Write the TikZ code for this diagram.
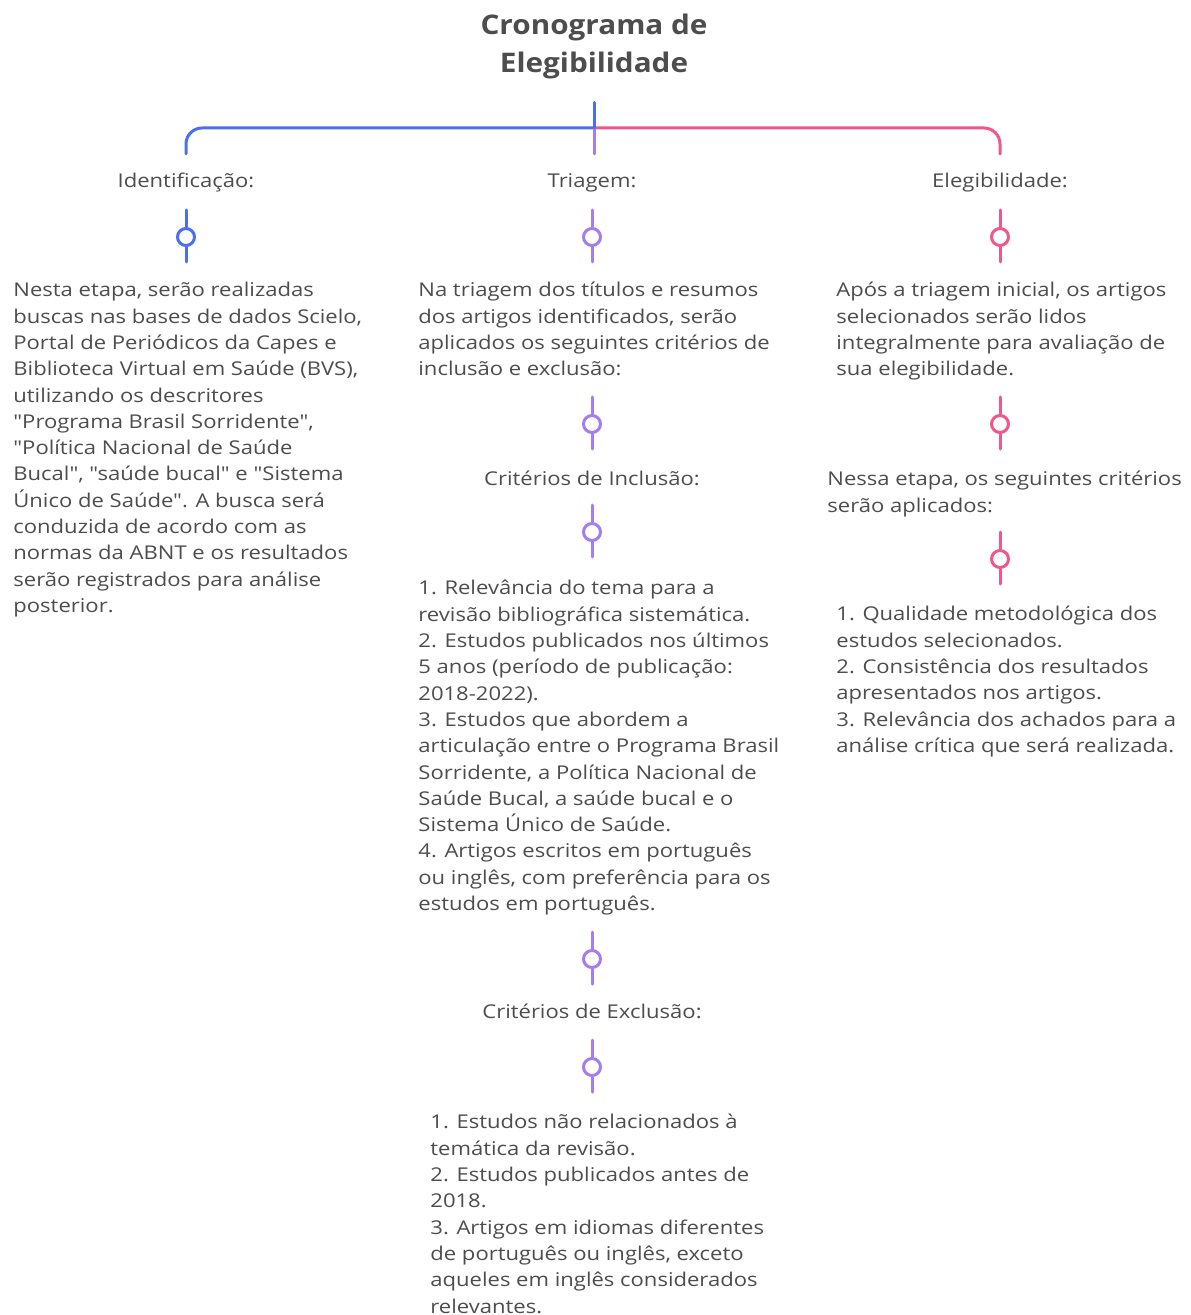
\documentclass[tikz,border=0pt]{standalone}
\usepackage{fontspec}
\setmainfont{Open Sans}[FakeStretch=1.16,Ligatures=TeXOff]
\newfontfamily\ttlfont{Open Sans}[FakeStretch=1.1,Ligatures=TeXOff]
\usetikzlibrary{calc}
\definecolor{cblue}{HTML}{4C6EF5}
\definecolor{cpurple}{HTML}{A47DF0}
\definecolor{cpink}{HTML}{F0588A}
\definecolor{ctext}{HTML}{4D4D4D}
\tikzset{
  ttl/.style={align=center,font=\ttlfont\fontsize{13.5}{19}\selectfont\bfseries,text=ctext,inner sep=0pt,outer sep=12pt},
  lbl/.style={font=\fontsize{9.5}{13.15}\selectfont,text=ctext,inner sep=0pt,text height=7pt,text depth=2pt,outer sep=10pt},
  txt/.style={align=left,anchor=north west,font=\fontsize{9.5}{13.15}\selectfont,text=ctext,inner sep=0pt,execute at begin node=\strut},
  pin/.style={circle,draw,fill=white,minimum size=8.5pt,inner sep=0pt,line width=1.5pt},
  stem/.style={line width=1.5pt,line cap=round},
  bl/.style={stem,draw=cblue},
  pl/.style={stem,draw=cpurple},
  rl/.style={stem,draw=cpink}
}

\begin{document}
\begin{tikzpicture}[x=0.5pt,y=-0.5pt]
\fill[white] (0,0) rectangle (1190,1315);
\useasboundingbox (0,0) rectangle (1190,1315);
\node[ttl] (title) at (594,46) {Cronograma de\\Elegibilidade};
\coordinate (fork) at (594,128);
\node[lbl] (idlab) at (186,183) {Identificação:};
\node[lbl] (trlab) at (592,183) {Triagem:};
\node[lbl] (ellab) at (1000,183) {Elegibilidade:};
\node[lbl] (inclab) at (592,480) {Critérios de Inclusão:};
\node[lbl] (exclab) at (592,1013) {Critérios de Exclusão:};
% tree
\draw[bl,rounded corners=8] (fork) -| (idlab);
\draw[rl,rounded corners=8] (fork) -| (ellab);
\draw[pl] (fork) -- (fork |- trlab.north);
\draw[bl] (title) -- (fork);
% pins
\foreach \n/\x/\y/\c in {p1/186/237/cblue,p2/592/237/cpurple,p3/1000/237/cpink,
  p4/592/424/cpurple,p5/592/532/cpurple,p6/592/959/cpurple,p7/592/1067/cpurple,
  p8/1000/424/cpink,p9/1000/559/cpink}{
  \node[pin,draw=\c] (\n) at (\x,\y) {};
  \coordinate (\n a) at (\x,\y-27);
  \coordinate (\n b) at (\x,\y+25);
  \draw[stem,draw=\c] (\n a) -- (\n) -- (\n b);
}
% texts
\node[txt] (idtxt) at (13,282) {Nesta etapa, serão realizadas\\
buscas nas bases de dados Scielo,\\
Portal de Periódicos da Capes e\\
Biblioteca Virtual em Saúde (BVS),\\
utilizando os descritores\\
"Programa Brasil Sorridente",\\
"Política Nacional de Saúde\\
Bucal", "saúde bucal" e "Sistema\\
Único de Saúde". A busca será\\
conduzida de acordo com as\\
normas da ABNT e os resultados\\
serão registrados para análise\\
posterior.};
\node[txt] (trtxt) at (418,282) {Na triagem dos títulos e resumos\\
dos artigos identificados, serão\\
aplicados os seguintes critérios de\\
inclusão e exclusão:};
\node[txt] (inctxt) at (418,580) {1. Relevância do tema para a\\
revisão bibliográfica sistemática.\\
2. Estudos publicados nos últimos\\
5 anos (período de publicação:\\
2018-2022).\\
3. Estudos que abordem a\\
articulação entre o Programa Brasil\\
Sorridente, a Política Nacional de\\
Saúde Bucal, a saúde bucal e o\\
Sistema Único de Saúde.\\
4. Artigos escritos em português\\
ou inglês, com preferência para os\\
estudos em português.};
\node[txt] (exctxt) at (430,1114) {1. Estudos não relacionados à\\
temática da revisão.\\
2. Estudos publicados antes de\\
2018.\\
3. Artigos em idiomas diferentes\\
de português ou inglês, exceto\\
aqueles em inglês considerados\\
relevantes.};
\node[txt] (eltxt) at (836,282) {Após a triagem inicial, os artigos\\
selecionados serão lidos\\
integralmente para avaliação de\\
sua elegibilidade.};
\node[txt] (eltxt2) at (827,471) {Nessa etapa, os seguintes critérios\\
serão aplicados:};
\node[txt] (eltxt3) at (836,606) {1. Qualidade metodológica dos\\
estudos selecionados.\\
2. Consistência dos resultados\\
apresentados nos artigos.\\
3. Relevância dos achados para a\\
análise crítica que será realizada.};
\end{tikzpicture}
\end{document}
